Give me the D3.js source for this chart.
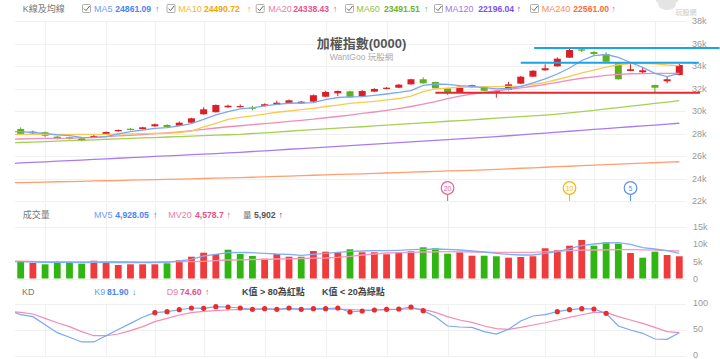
<!DOCTYPE html>
<html><head><meta charset="utf-8">
<script src="https://cdn.jsdelivr.net/npm/d3@7"></script>
<style>
html,body{margin:0;padding:0;background:#fff;}
svg{display:block;font-family:"Liberation Sans",Arial,"Noto Sans CJK TC",sans-serif;}
</style></head><body>
<svg id="c" width="720" height="359"></svg>
<script>
// ---------- DATA (index 0 is partly hidden at the left edge) ----------
const openP  = [28310,28400,28020,28110,27720,27660,27570,27710,27890,28200,28420,28400,28640,28760,28690,28960,29710,29890,30330,30340,30310,30440,30560,30710,30680,30830,31270,31570,31750,31310,31720,31960,32070,32370,32820,32580,32020,31630,32110,32160,31660,31870,32430,33050,33620,33970,34740,35480,35240,35070,34240,33560,33440,32310,32640,33200];
const closeP = [28040,27960,28160,27800,27510,27510,27420,27780,28130,28310,28360,28550,28820,28580,28960,29350,30150,30530,30470,30440,30240,30600,30740,30950,30830,31400,31690,31780,31220,31780,31960,32070,32340,32820,32460,32020,31600,32160,32290,31800,31780,32370,33050,33580,33800,34650,35420,35360,35070,34380,32820,33710,33620,32070,32820,34090];
const highP  = [28490,28550,28250,28180,27780,27710,27640,27960,28180,28360,28490,28600,28890,28820,29070,29400,30330,30580,30560,30580,30470,30670,30920,31020,30890,31470,31800,31820,31800,31870,32020,32130,32400,32860,33000,32620,32060,32220,32340,32220,31870,32600,33110,33640,34150,34770,35510,35530,35330,35220,34270,34180,33850,32340,33050,34180];
const lowP   = [27960,27870,27960,27660,27470,27470,27380,27660,27870,28160,28270,28370,28600,28530,28670,28930,29670,29870,30290,30310,30040,30400,30530,30680,30650,30800,31240,31330,31180,31240,31690,31930,32040,32340,32430,31980,31420,31600,32040,31780,31180,31820,32400,33020,33580,33940,34710,35240,34890,34360,32780,33530,33320,31630,32460,33170];

const ma5   = [28180,28160,28090,28000,27870,27820,27660,27630,27720,27960,28160,28310,28460,28530,28670,28870,29250,29650,29940,30180,30270,30450,30580,30690,30710,30740,31020,31200,31250,31270,31380,31510,31650,31820,32270,32400,32360,32250,32180,32070,31960,32000,32180,32490,32850,33290,33820,34490,34930,35020,34760,34310,33870,33350,33050,33350];
const ma10  = [27930,27930,27930,27920,27910,27910,27920,27930,27930,27950,27960,27980,28000,28020,28090,28220,28580,28890,29250,29440,29570,29730,29890,30000,30130,30240,30400,30530,30670,30760,30860,30980,31110,31330,31730,31960,32040,32110,32130,32150,32160,32180,32220,32360,32550,32800,33080,33380,33640,33910,34110,34220,34220,34180,34090,34030];
const ma20  = [27490,27510,27540,27560,27570,27580,27620,27660,27720,27780,27840,27910,27990,28060,28150,28260,28360,28490,28600,28690,28790,28880,28970,29070,29170,29270,29400,29510,29640,29780,29910,30060,30220,30400,30620,30840,31110,31330,31510,31660,31800,31930,32060,32200,32370,32550,32740,32910,33040,33160,33250,33310,33330,33340,33350,33350];
const ma60  = [27160,27200,27240,27280,27320,27360,27400,27440,27490,27520,27560,27610,27640,27690,27720,27770,27810,27850,27890,27930,28000,28060,28130,28200,28270,28340,28410,28470,28540,28600,28680,28750,28810,28880,28940,29010,29090,29150,29220,29290,29360,29430,29500,29570,29640,29730,29840,29950,30050,30180,30300,30430,30550,30680,30790,30920];
const ma120 = [25320,25380,25430,25480,25540,25590,25640,25700,25750,25800,25850,25900,25960,26010,26060,26120,26170,26220,26280,26330,26400,26460,26520,26600,26660,26730,26790,26860,26920,26990,27060,27120,27190,27250,27320,27390,27460,27520,27580,27650,27720,27800,27880,27960,28040,28120,28200,28280,28360,28440,28520,28600,28670,28750,28830,28910];
const ma240 = [23610,23640,23650,23680,23710,23730,23750,23780,23800,23820,23850,23880,23900,23920,23950,23970,24000,24030,24050,24070,24110,24140,24180,24210,24250,24290,24320,24360,24380,24420,24450,24490,24520,24560,24600,24630,24670,24700,24730,24770,24820,24860,24910,24950,25000,25050,25090,25140,25180,25230,25270,25320,25360,25400,25450,25490];

const volume = [4500,4870,4490,4110,4870,4870,4290,5150,4780,3910,4110,4110,4110,4400,5270,6310,7470,7100,8340,7100,6520,5730,7100,6310,6310,7960,7760,7590,8460,7590,7590,7010,7590,7880,9040,8750,7180,7590,6600,6600,6430,6020,6230,6430,8750,8170,9500,11150,9500,10480,10080,7380,6020,7760,6810,6430];
const volUp  = [0,0,1,0,0,0,0,1,1,1,1,1,1,0,1,1,1,1,0,0,0,1,1,1,0,1,1,1,0,1,1,1,1,1,0,0,0,1,1,0,0,1,1,1,1,1,1,1,0,0,0,1,0,0,1,1];
const mv5    = [4920,4870,4780,4690,4690,4690,4630,4690,4690,4630,4580,4580,4630,4690,5070,5560,6520,7010,7470,7590,7470,7300,7100,7010,6720,7010,7300,7590,7880,7960,8050,8050,8170,8340,8460,8540,8460,8250,7960,7670,7300,7010,6810,6810,7300,7760,8630,9500,9990,10280,10370,9900,8920,8540,8050,7300];
const mv20   = [5070,5010,4920,4870,4870,4780,4780,4780,4870,4870,4870,4780,4780,4870,4870,4870,4980,5150,5360,5420,5500,5560,5650,5710,5790,5880,5940,6140,6430,6810,7100,7380,7470,7590,7670,7730,7760,7730,7670,7620,7590,7590,7590,7590,7760,7880,8050,8200,8250,8310,8340,8340,8310,8200,8080,7960];

const kValues = [88,79.5,75.6,60,44.9,36,27,27,39,51,62.8,74.4,83.3,85.2,89,92.3,91.7,94.9,94.2,92.3,89.7,91,89.7,92.3,89.7,91,91,92.3,84.6,86.5,88.5,89.7,90.4,94.2,87.2,75.6,57.7,55.8,55.1,46.8,42.3,51.3,67.3,76.9,79.5,85.2,89,91,90.4,82,57.7,50,43.6,32.7,32,44.9];
const dValues = [86,84,80.8,72.4,64,56.4,46.8,39,39,42.3,48.7,56.4,66,72.4,78.8,83.3,86,87.1,88.5,89.7,89.7,90,90,90,90,90,90,90,89,88.5,88.5,89,89.7,91,89.7,84,75.6,69.2,64.7,57.7,52.6,51.3,55.1,59.6,64,69.2,74.4,79.4,84,84,75.6,69.2,62.8,55.1,46.8,44.9];

const weekStarts = [3,8,12,16,21,26,31,36,44,48,53];
const priceTicks = [22000,24000,26000,28000,30000,32000,34000,36000,38000];
const volTicks = [0,5000,10000,15000];
const kdTicks = [0,50,100];
const markerLabels = ["20","10","5"];
const markerIdx = [36,46,51];
const levelValues = [35600,34300,31630];
const levelStart = [43.1,42,35];
const levelEnd = [58.3,56.6,56.7];

// ---------- SCALES ----------
const svg = d3.select('#c');
const L = 15, R = 686;
const x  = d3.scaleLinear().domain([0,55]).range([8.5,679.3]);
const yP = d3.scaleLinear().domain([22000,38000]).range([201,21]);
const yV = d3.scaleLinear().domain([0,15000]).range([278.5,226.7]);
const yK = d3.scaleLinear().domain([0,100]).range([356,304]);
const idx = d3.range(openP.length);

const RED='#dc1f26', GREEN='#5fb01a', VRED='#ef3b3b', VGREEN='#30b512';
const C5='#78a8f5', C10='#fbc94e', C20='#f28cb8', C60='#a6d052', C120='#a77cf2', C240='#ff9e70';

svg.append('defs').append('clipPath').attr('id','clip')
  .append('rect').attr('x',L).attr('y',0).attr('width',R-L).attr('height',359);

// ---------- GRID ----------
const grid = svg.append('g').attr('stroke','#f0f0f0').attr('stroke-width',1);
priceTicks.forEach(t=>grid.append('line').attr('x1',L).attr('x2',R).attr('y1',Math.round(yP(t))+0.5).attr('y2',Math.round(yP(t))+0.5));
[15000,0].forEach(t=>grid.append('line').attr('x1',L).attr('x2',R).attr('y1',Math.round(yV(t))+0.5).attr('y2',Math.round(yV(t))+0.5));
kdTicks.forEach(t=>grid.append('line').attr('x1',L).attr('x2',R).attr('y1',Math.round(yK(t))+0.5).attr('y2',Math.round(yK(t))+0.5));
weekStarts.forEach(i=>{
  const xx = Math.round(x(i))+0.5;
  [[yP(38000),yP(22000)],[204,yV(0)],[yK(100),yK(0)]].forEach(([a,b])=>
    grid.append('line').attr('x1',xx).attr('x2',xx).attr('y1',a).attr('y2',b));
});

// ---------- AXES ----------
function styleAxis(g){
  g.select('.domain').remove();
  g.selectAll('line').remove();
  g.selectAll('text').attr('fill','#999').attr('font-size',9).attr('font-family','"Liberation Sans",Arial,sans-serif');
}
svg.append('g').attr('transform','translate(690,0)')
  .call(d3.axisRight(yP).tickValues(priceTicks).tickSize(0).tickPadding(2).tickFormat(d=>d/1000+'k')).call(styleAxis);
svg.append('g').attr('transform','translate(690,0)')
  .call(d3.axisRight(yV).tickValues(volTicks).tickSize(0).tickPadding(3).tickFormat(d=>d===0?'0':d/1000+'k')).call(styleAxis);
svg.append('g').attr('transform','translate(690,-1.5)')
  .call(d3.axisRight(yK).tickValues(kdTicks).tickSize(0).tickPadding(3)).call(styleAxis);

// ---------- TITLE ----------
svg.append('text').attr('x',361.5).attr('y',47.5).attr('text-anchor','middle')
  .attr('font-size',13).attr('font-weight','bold').attr('fill','#555').text('加權指數(0000)');
svg.append('text').attr('x',361.5).attr('y',59.5).attr('text-anchor','middle')
  .attr('font-size',8.5).attr('fill','#aaa').text('WantGoo 玩股網');

// ---------- PRICE PANEL ----------
const gP = svg.append('g').attr('clip-path','url(#clip)');
const line = arr => d3.line().x((d,i)=>x(i)).y(d=>yP(d))(arr);
[[ma240,C240],[ma120,C120],[ma60,C60]].forEach(([a,c])=>
  gP.append('path').attr('d',line(a)).attr('fill','none').attr('stroke',c).attr('stroke-width',1.3));

idx.forEach(i=>{
  const up = closeP[i] >= openP[i];
  const col = up ? RED : GREEN;
  gP.append('line').attr('x1',x(i)).attr('x2',x(i)).attr('y1',yP(highP[i])).attr('y2',yP(lowP[i]))
    .attr('stroke',col).attr('stroke-width',1);
  const top = yP(Math.max(openP[i],closeP[i])), bot = yP(Math.min(openP[i],closeP[i]));
  gP.append('rect').attr('x',x(i)-3.5).attr('y',top).attr('width',7).attr('height',Math.max(1.2,bot-top))
    .attr('fill',col);
});
[[ma20,C20],[ma10,C10],[ma5,C5]].forEach(([a,c])=>
  gP.append('path').attr('d',line(a)).attr('fill','none').attr('stroke',c).attr('stroke-width',1.3));

// support / resistance lines
levelValues.forEach((v,k)=>{
  svg.append('line').attr('x1',x(levelStart[k])).attr('x2',x(levelEnd[k]))
    .attr('y1',yP(v)).attr('y2',yP(v)).attr('stroke',k<2?'#1aa3e6':'#e52a2f').attr('stroke-width',2);
});

// MA markers
const mColors = ['#e8609a','#f5b800','#5b8ef0'];
markerIdx.forEach((i,k)=>{
  const g = svg.append('g');
  g.append('line').attr('x1',x(i)).attr('x2',x(i)).attr('y1',194.5).attr('y2',201).attr('stroke',mColors[k]).attr('stroke-width',1);
  g.append('circle').attr('cx',x(i)).attr('cy',188).attr('r',6.3).attr('fill','#fff').attr('stroke',mColors[k]).attr('stroke-width',1.2);
  g.append('text').attr('x',x(i)).attr('y',190.6).attr('text-anchor','middle').attr('font-size',7).attr('fill',mColors[k]).text(markerLabels[k]);
});

// ---------- VOLUME PANEL ----------
const gV = svg.append('g').attr('clip-path','url(#clip)');
idx.forEach(i=>{
  gV.append('rect').attr('x',x(i)-3.4).attr('y',yV(volume[i])).attr('width',6.8)
    .attr('height',yV(0)-yV(volume[i])).attr('fill',volUp[i]?VRED:VGREEN);
});
const vline = arr => d3.line().x((d,i)=>x(i)).y(d=>yV(d))(arr);
gV.append('path').attr('d',vline(mv20)).attr('fill','none').attr('stroke','#f49ac0').attr('stroke-width',1.3);
gV.append('path').attr('d',vline(mv5)).attr('fill','none').attr('stroke','#80aef5').attr('stroke-width',1.3);

// ---------- KD PANEL ----------
const gK = svg.append('g').attr('clip-path','url(#clip)');
const kline = arr => d3.line().x((d,i)=>x(i)).y(d=>yK(d))(arr);
gK.append('path').attr('d',kline(dValues)).attr('fill','none').attr('stroke','#f28cb8').attr('stroke-width',1.2);
gK.append('path').attr('d',kline(kValues)).attr('fill','none').attr('stroke','#78a8f5').attr('stroke-width',1.2);
idx.filter(i=>kValues[i]>80).forEach(i=>
  gK.append('circle').attr('cx',x(i)).attr('cy',yK(kValues[i])).attr('r',2.6).attr('fill','#ee2a2a'));

// ---------- LEGENDS ----------
function txt(xx,yy,s,col,opts={}){
  const t = svg.append('text').attr('x',xx).attr('y',yy).attr('font-size',opts.size||9).attr('fill',col).text(s);
  if(opts.bold) t.attr('font-weight','bold');
  return t;
}
function checkbox(xx,yy){
  svg.append('rect').attr('x',xx+0.5).attr('y',yy+0.5).attr('width',8).attr('height',8).attr('rx',1)
    .attr('fill','#fff').attr('stroke','#9a9a9a').attr('stroke-width',0.8);
  svg.append('path').attr('d',`M${xx+2},${yy+4.6} L${xx+4},${yy+6.6} L${xx+7.6},${yy+2}`)
    .attr('fill','none').attr('stroke','#555').attr('stroke-width',0.9);
}
const Y1 = 11.5;
txt(22.7,Y1,'K線及均線','#777');
const maLegend = [
  [82,94,115.3,155,'MA5','24861.09','#6b9ff5','#4a86f2'],
  [166.5,178.3,204,247,'MA10','24490.72','#f9b830','#f5a500'],
  [255.7,268.3,293.3,333,'MA20','24338.43','#f07aa8','#e8508c'],
  [345,356.3,384,424,'MA60','23491.51','#8cc63f','#6cb32a'],
  [434,445,478.3,516.5,'MA120','22196.04','#9d78f0','#7d52e8'],
  [530,541.7,573.3,611.5,'MA240','22561.00','#ff8a5c','#ff6a3a']
];
maLegend.forEach(([cb,xl,xv,xa,l,v,c1,c2])=>{
  checkbox(cb,4);
  txt(xl,Y1,l,c1); txt(xv,Y1,v,c2,{bold:true,size:8.6}); txt(xa,Y1,'↑',c2);
});

const Y2 = 218;
txt(22.7,Y2,'成交量','#777');
txt(94,Y2,'MV5','#6b9ff5'); txt(115.3,Y2,'4,928.05','#4a86f2',{bold:true,size:8.6}); txt(153,Y2,'↑','#4a86f2');
txt(168.3,Y2,'MV20','#f07aa8'); txt(195,Y2,'4,578.7','#e8508c',{bold:true,size:8.6}); txt(226.5,Y2,'↑','#e8508c');
txt(243,Y2,'量','#777',{size:8.5}); txt(254,Y2,'5,902','#555',{bold:true,size:8.6}); txt(278.5,Y2,'↑','#555');

const Y3 = 295;
txt(22,Y3,'KD','#777');
txt(94.3,Y3,'K9','#6b9ff5'); txt(107,Y3,'81.90','#4a86f2',{bold:true,size:8.6}); txt(132,Y3,'↓','#4a86f2');
txt(166.7,Y3,'D9','#f07aa8'); txt(180,Y3,'74.60','#e8508c',{bold:true,size:8.6}); txt(205,Y3,'↑','#e8508c');
txt(242,Y3,'K值 > 80為紅點','#444',{bold:true});
txt(322,Y3,'K值 < 20為綠點','#444',{bold:true});

// watermark
const wm = svg.append('g').attr('fill','#e4e4e4');
wm.append('ellipse').attr('cx',667).attr('cy',4).attr('rx',9).attr('ry',6);
wm.append('circle').attr('cx',659).attr('cy',-1).attr('r',3.5);
wm.append('circle').attr('cx',675).attr('cy',-1).attr('r',3.5);
svg.append('text').attr('x',686).attr('y',14.5).attr('text-anchor','middle').attr('font-size',7).attr('fill','#c8c8c8').text('玩股網');
</script>
</body></html>
